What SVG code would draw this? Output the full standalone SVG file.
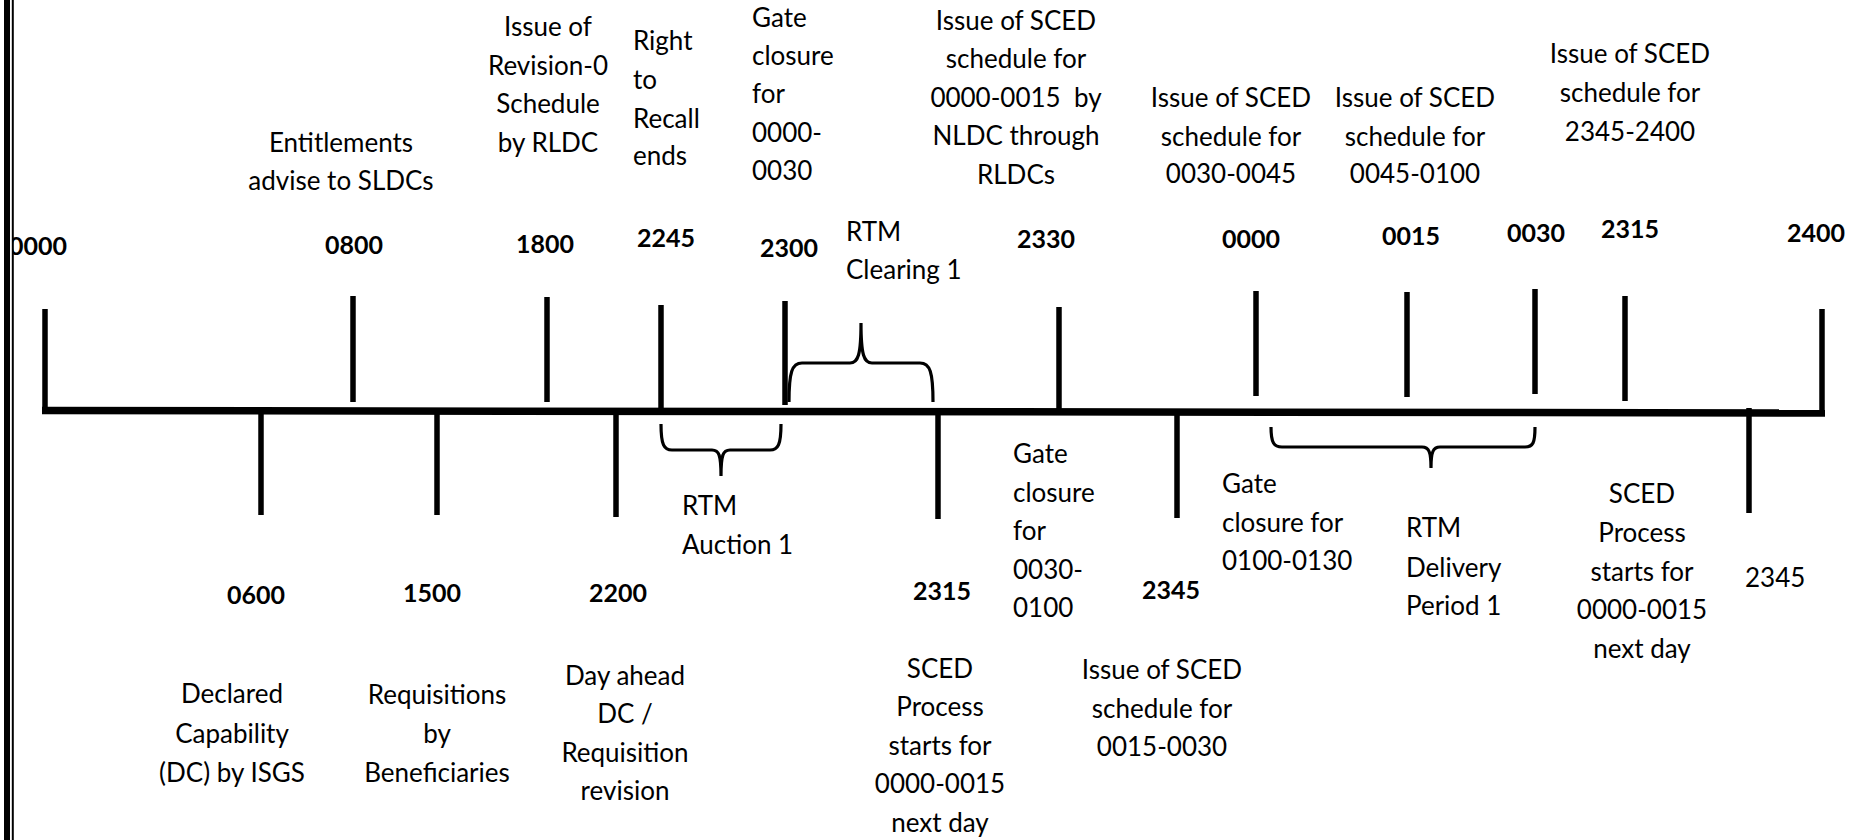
<svg xmlns="http://www.w3.org/2000/svg" width="1856" height="840" viewBox="0 0 1856 840">
<style>
.t{font-family:Lato,"Liberation Sans",sans-serif;font-size:26px;fill:#000}
.c{text-anchor:middle}
.b{font-family:Lato,"Liberation Sans",sans-serif;font-size:25px;font-weight:bold;fill:#000;text-anchor:middle}
.tick{stroke:#000;stroke-width:5.5;fill:none}
.axis{stroke:#000;stroke-width:7.5;fill:none}
.brace{stroke:#000;stroke-width:3.2;fill:none}
</style>
<rect width="1856" height="840" fill="#fff"/>

<g id="connectors">
  <line class="axis" x1="42" y1="410.5" x2="1825" y2="413"/>
  <!-- ticks above -->
  <line class="tick" x1="45" y1="309" x2="45" y2="414"/>
  <line class="tick" x1="353" y1="296" x2="353" y2="402"/>
  <line class="tick" x1="547" y1="297" x2="547" y2="402"/>
  <line class="tick" x1="661" y1="305" x2="661" y2="410"/>
  <line class="tick" x1="785" y1="301" x2="785" y2="405"/>
  <line class="tick" x1="1059" y1="307" x2="1059" y2="411"/>
  <line class="tick" x1="1256" y1="291" x2="1256" y2="396"/>
  <line class="tick" x1="1407" y1="292" x2="1407" y2="397"/>
  <line class="tick" x1="1535" y1="289" x2="1535" y2="394"/>
  <line class="tick" x1="1625" y1="296" x2="1625" y2="401"/>
  <line class="tick" x1="1822" y1="309" x2="1822" y2="416"/>
  <!-- ticks below -->
  <line class="tick" x1="261" y1="411" x2="261" y2="515"/>
  <line class="tick" x1="437" y1="411" x2="437" y2="515"/>
  <line class="tick" x1="616" y1="411" x2="616" y2="517"/>
  <line class="tick" x1="938" y1="412" x2="938" y2="519"/>
  <line class="tick" x1="1177" y1="412" x2="1177" y2="518"/>
  <line class="tick" x1="1749" y1="408" x2="1749" y2="513"/>
  <!-- braces -->
  <path class="brace" d="M789,402 C789,372 792,363 802,363 L850,363 C858,363 861,355 861,323 C861,355 864,363 872,363 L920,363 C930,363 933,372 933,402"/>
  <path class="brace" d="M661,424 C661,445 664,450 672,450 L712,450 C719,450 721,455 721,476 C721,455 723,450 730,450 L770,450 C778,450 781,445 781,424"/>
  <path class="brace" d="M1271,427 C1271,443 1274,447 1282,447 L1422,447 C1429,447 1431,452 1431,468 C1431,452 1433,447 1440,447 L1525,447 C1533,447 1535,443 1535,427"/>
</g>

<g id="n0000a"><text class="b" x="67" y="255" style="text-anchor:end">0000</text></g>
<g id="border">
  <rect x="0" y="0" width="12" height="840" fill="#fff"/>
  <line x1="7" y1="0" x2="7" y2="840" stroke="#000" stroke-width="6"/>
  <line x1="12.8" y1="0" x2="12.8" y2="840" stroke="#000" stroke-width="2"/>
</g>

<g id="n0800"><text class="b" x="354" y="254">0800</text>
  <text class="t c" x="341" y="152">Entitlements</text>
  <text class="t c" x="341" y="190">advise to SLDCs</text></g>
<g id="n1800"><text class="b" x="545" y="253">1800</text>
  <text class="t c" x="548" y="36">Issue of</text>
  <text class="t c" x="548" y="75">Revision-0</text>
  <text class="t c" x="548" y="113">Schedule</text>
  <text class="t c" x="548" y="152">by RLDC</text></g>
<g id="n2245"><text class="b" x="666" y="247">2245</text>
  <text class="t" x="633" y="50">Right</text>
  <text class="t" x="633" y="89">to</text>
  <text class="t" x="633" y="128">Recall</text>
  <text class="t" x="633" y="165">ends</text></g>
<g id="n2300"><text class="b" x="789" y="257">2300</text>
  <text class="t" x="752" y="27">Gate</text>
  <text class="t" x="752" y="65">closure</text>
  <text class="t" x="752" y="103">for</text>
  <text class="t" x="752" y="142">0000-</text>
  <text class="t" x="752" y="180">0030</text></g>
<g id="rtmClearing"><text class="t" x="846" y="241">RTM</text>
  <text class="t" x="846" y="279">Clearing 1</text></g>
<g id="n2330"><text class="b" x="1046" y="248">2330</text>
  <text class="t c" x="1016" y="30">Issue of SCED</text>
  <text class="t c" x="1016" y="68">schedule for</text>
  <text class="t c" x="1016" y="107" style="white-space:pre">0000-0015  by</text>
  <text class="t c" x="1016" y="145">NLDC through</text>
  <text class="t c" x="1016" y="184">RLDCs</text></g>
<g id="n0000b"><text class="b" x="1251" y="248">0000</text>
  <text class="t c" x="1231" y="107">Issue of SCED</text>
  <text class="t c" x="1231" y="146">schedule for</text>
  <text class="t c" x="1231" y="183">0030-0045</text></g>
<g id="n0015"><text class="b" x="1411" y="245">0015</text>
  <text class="t c" x="1415" y="107">Issue of SCED</text>
  <text class="t c" x="1415" y="146">schedule for</text>
  <text class="t c" x="1415" y="183">0045-0100</text></g>
<g id="n0030"><text class="b" x="1536" y="242">0030</text></g>
<g id="n2315a"><text class="b" x="1630" y="238">2315</text>
  <text class="t c" x="1630" y="63">Issue of SCED</text>
  <text class="t c" x="1630" y="102">schedule for</text>
  <text class="t c" x="1630" y="141">2345-2400</text></g>
<g id="n2400"><text class="b" x="1816" y="242">2400</text></g>

<g id="n0600"><text class="b" x="256" y="604">0600</text>
  <text class="t c" x="232" y="703">Declared</text>
  <text class="t c" x="232" y="743">Capability</text>
  <text class="t c" x="232" y="782">(DC) by ISGS</text></g>
<g id="n1500"><text class="b" x="432" y="602">1500</text>
  <text class="t c" x="437" y="704">Requisitions</text>
  <text class="t c" x="437" y="743">by</text>
  <text class="t c" x="437" y="782">Beneficiaries</text></g>
<g id="n2200"><text class="b" x="618" y="602">2200</text>
  <text class="t c" x="625" y="685">Day ahead</text>
  <text class="t c" x="625" y="723">DC /</text>
  <text class="t c" x="625" y="762">Requisition</text>
  <text class="t c" x="625" y="800">revision</text></g>
<g id="rtmAuction"><text class="t" x="682" y="515">RTM</text>
  <text class="t" x="682" y="554">Auction 1</text></g>
<g id="n2315b"><text class="b" x="942" y="600">2315</text>
  <text class="t c" x="940" y="678">SCED</text>
  <text class="t c" x="940" y="716">Process</text>
  <text class="t c" x="940" y="755">starts for</text>
  <text class="t c" x="940" y="793">0000-0015</text>
  <text class="t c" x="940" y="832">next day</text></g>
<g id="gate0030"><text class="t" x="1013" y="463">Gate</text>
  <text class="t" x="1013" y="502">closure</text>
  <text class="t" x="1013" y="540">for</text>
  <text class="t" x="1013" y="579">0030-</text>
  <text class="t" x="1013" y="617">0100</text></g>
<g id="n2345a"><text class="b" x="1171" y="599">2345</text>
  <text class="t c" x="1162" y="679">Issue of SCED</text>
  <text class="t c" x="1162" y="718">schedule for</text>
  <text class="t c" x="1162" y="756">0015-0030</text></g>
<g id="gate0100"><text class="t" x="1222" y="493">Gate</text>
  <text class="t" x="1222" y="532">closure for</text>
  <text class="t" x="1222" y="570">0100-0130</text></g>
<g id="rtmDelivery"><text class="t" x="1406" y="537">RTM</text>
  <text class="t" x="1406" y="577">Delivery</text>
  <text class="t" x="1406" y="615">Period 1</text></g>
<g id="n2345b"><text class="t" x="1745" y="587">2345</text>
  <text class="t c" x="1642" y="503">SCED</text>
  <text class="t c" x="1642" y="542">Process</text>
  <text class="t c" x="1642" y="581">starts for</text>
  <text class="t c" x="1642" y="619">0000-0015</text>
  <text class="t c" x="1642" y="658">next day</text></g>
</svg>
